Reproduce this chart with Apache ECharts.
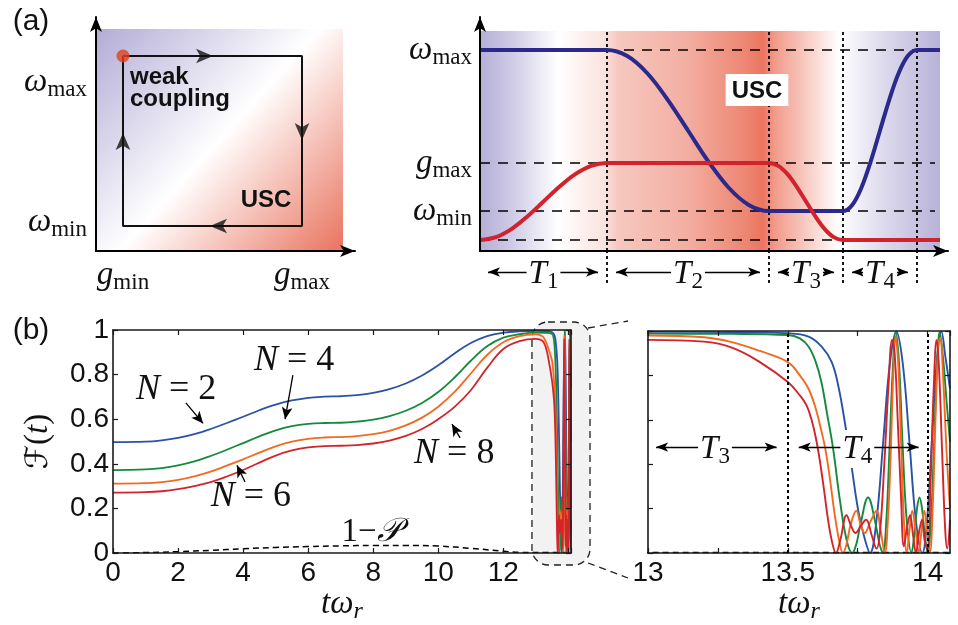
<!DOCTYPE html>
<html><head><meta charset="utf-8">
<script src="https://cdn.jsdelivr.net/npm/echarts@6.0.0/dist/echarts.min.js"></script>
<style>html,body{margin:0;padding:0;background:#fff;}#chart{width:958px;height:625px;}</style>
</head><body><div id="chart"></div>
<script>
// ================= DATA =================
// (a) left: loop in the (g, omega) plane
const gLevels = [0.27, 2.06];
const gLevelNames = [['g','min'], ['g','max']];
const wLoopLevels = [0.25, 1.95];
const wLoopNames = [['ω','min'], ['ω','max']];
const loopPath = [[0.27,1.95],[2.06,1.95],[2.06,0.25],[0.27,0.25],[0.27,1.95]];
const loopArrowPos = [[1.17,1.95],[2.06,1.11],[1.14,0.25],[0.27,1.18]];
const loopArrowDir = [-90, 180, 90, 0];
const loopStart = [[0.27,1.95]];
const loopBox = [2.47, 2.22];

// (a) right: control pulses omega(t), g(t)
const levelValues = [2.01, 0.88, 0.40, 0.11];
const levelNames = [['ω','max'], ['g','max'], ['ω','min'], ['g','min']];
const stageBounds = [0, 1.27, 2.89, 3.63, 4.37];
const stageArrowEnds = [[0.08,1.18],[1.36,2.80],[2.98,3.54],[3.72,4.28]];
const stageNames = ['1','2','3','4'];
const stageRow = -0.21, stageLineBottom = -0.32;
const pulseEnd = 4.60, pulseTop = 2.20;
const omegaPulse = [[0,2.01],[1.27,2.01],[1.4725,1.949],[1.675,1.775],[1.8775,1.512],[2.08,1.205],[2.2825,0.897],[2.485,0.635],[2.6875,0.461],[2.89,0.40],[3.63,0.40],[3.7225,0.461],[3.815,0.635],[3.9075,0.897],[4.0,1.205],[4.0925,1.512],[4.185,1.775],[4.2775,1.949],[4.37,2.01],[4.60,2.01]];
const gPulse = [[0,0.11],[0.159,0.139],[0.318,0.222],[0.476,0.348],[0.635,0.495],[0.794,0.642],[0.953,0.768],[1.111,0.851],[1.27,0.88],[2.89,0.88],[2.9825,0.851],[3.075,0.768],[3.1675,0.642],[3.26,0.495],[3.3525,0.348],[3.445,0.222],[3.5375,0.139],[3.63,0.11],[4.60,0.11]];

// (b) fidelity F(t) for N = 2, 4, 6, 8 and leakage 1-P
const fidN2 = [[0,0.497],[1,0.499],[1.5,0.505],[2,0.516],[2.5,0.533],[3,0.556],[3.5,0.583],[4,0.611],[4.5,0.640],[5,0.665],[5.5,0.684],[6,0.696],[6.5,0.701],[7,0.703],[7.5,0.708],[8,0.718],[8.5,0.735],[9,0.760],[9.5,0.796],[10,0.842],[10.5,0.895],[11,0.942],[11.5,0.973],[12,0.988],[12.5,0.994],[13,0.996],[13.3,0.995],[13.5,0.990],[13.574,0.975],[13.621,0.93],[13.657,0.86],[13.681,0.75],[13.705,0.58],[13.728,0.39],[13.752,0.19],[13.776,0.06],[13.794,0.0],[13.817,0.146],[13.841,0.5],[13.865,0.854],[13.888,0.998],[13.911,0.854],[13.935,0.5],[13.958,0.146],[13.981,0.0],[13.998,0.146],[14.015,0.5],[14.032,0.854],[14.049,0.998],[14.064,0.88],[14.08,0.74]];
const fidN4 = [[0,0.372],[1,0.375],[1.5,0.381],[2,0.393],[2.5,0.411],[3,0.435],[3.5,0.463],[4,0.493],[4.5,0.523],[5,0.550],[5.5,0.569],[6,0.579],[6.5,0.583],[7,0.584],[7.5,0.589],[8,0.598],[8.5,0.614],[9,0.638],[9.5,0.673],[10,0.722],[10.5,0.787],[11,0.862],[11.5,0.927],[12,0.966],[12.5,0.981],[13,0.988],[13.3,0.987],[13.5,0.982],[13.543,0.967],[13.574,0.93],[13.6,0.86],[13.62,0.77],[13.64,0.63],[13.662,0.47],[13.686,0.24],[13.71,0.06],[13.73,0.0],[13.745,0.04],[13.76,0.13],[13.787,0.25],[13.814,0.13],[13.828,0.04],[13.84,0.0],[13.852,0.14],[13.863,0.45],[13.875,0.82],[13.886,0.995],[13.898,0.85],[13.91,0.5],[13.925,0.15],[13.942,0.0],[13.952,0.08],[13.962,0.2],[13.971,0.25],[13.98,0.2],[13.99,0.08],[14.0,0.0],[14.012,0.15],[14.022,0.45],[14.033,0.82],[14.043,0.995],[14.055,0.88],[14.068,0.68],[14.08,0.5]];
const fidN6 = [[0,0.311],[1,0.313],[1.5,0.318],[2,0.328],[2.5,0.344],[3,0.365],[3.5,0.392],[4,0.420],[4.5,0.450],[5,0.478],[5.5,0.499],[6,0.512],[6.5,0.518],[7,0.520],[7.5,0.524],[8,0.533],[8.5,0.548],[9,0.572],[9.5,0.607],[10,0.656],[10.5,0.722],[11,0.805],[11.5,0.888],[12,0.945],[12.5,0.972],[13,0.980],[13.2,0.972],[13.3,0.950],[13.4,0.910],[13.5,0.86],[13.543,0.80],[13.574,0.74],[13.6,0.65],[13.62,0.55],[13.634,0.47],[13.65,0.34],[13.667,0.18],[13.683,0.06],[13.697,0.0],[13.71,0.04],[13.725,0.13],[13.745,0.19],[13.76,0.13],[13.775,0.09],[13.795,0.14],[13.817,0.19],[13.832,0.1],[13.847,0.0],[13.858,0.15],[13.868,0.45],[13.877,0.8],[13.885,0.975],[13.895,0.85],[13.905,0.5],[13.915,0.15],[13.925,0.0],[13.935,0.1],[13.945,0.19],[13.957,0.1],[13.968,0.0],[13.978,0.1],[13.988,0.19],[13.998,0.1],[14.008,0.0],[14.018,0.2],[14.028,0.6],[14.038,0.93],[14.045,0.97],[14.055,0.8],[14.068,0.45],[14.08,0.2]];
const fidN8 = [[0,0.271],[1,0.273],[1.5,0.277],[2,0.286],[2.5,0.300],[3,0.318],[3.5,0.343],[4,0.372],[4.5,0.405],[5,0.437],[5.5,0.460],[6,0.474],[6.5,0.479],[7,0.481],[7.5,0.484],[8,0.491],[8.5,0.504],[9,0.525],[9.5,0.556],[10,0.600],[10.5,0.655],[11,0.730],[11.5,0.830],[12,0.915],[12.5,0.950],[13,0.960],[13.2,0.952],[13.3,0.925],[13.4,0.86],[13.5,0.77],[13.543,0.71],[13.567,0.665],[13.585,0.60],[13.6,0.52],[13.614,0.42],[13.63,0.28],[13.645,0.14],[13.66,0.04],[13.672,0.0],[13.688,0.06],[13.71,0.17],[13.727,0.12],[13.742,0.09],[13.76,0.12],[13.78,0.15],[13.80,0.08],[13.817,0.02],[13.83,0.1],[13.845,0.4],[13.86,0.75],[13.873,0.96],[13.882,0.9],[13.893,0.6],[13.905,0.25],[13.915,0.03],[13.927,0.12],[13.937,0.17],[13.948,0.08],[13.958,0.0],[13.97,0.1],[13.98,0.15],[13.99,0.05],[14.0,0.02],[14.01,0.3],[14.022,0.75],[14.032,0.96],[14.04,0.85],[14.052,0.45],[14.063,0.1],[14.07,0.02],[14.08,0.15]];
const leakage = [[0,0.0],[1,0.002],[2,0.006],[3,0.012],[4,0.019],[5,0.025],[6,0.029],[7,0.032],[8,0.034],[9,0.034],[10,0.031],[11,0.021],[12,0.008],[12.5,0.003],[13,0.002],[14.08,0.002]];
const curveNames = ['N = 2', 'N = 4', 'N = 6', 'N = 8'];
const curveLabelPos = [[1.94,0.731],[5.57,0.865],[4.24,0.251],[10.49,0.444]];
const curveArrows = [[[2.24,0.673],[2.77,0.581]],[[5.53,0.798],[5.29,0.600]],[[4.06,0.318],[3.81,0.393]],[[10.67,0.516],[10.42,0.578]]];
const leakLabelPos = [7.93, 0.094];
const zoomMarks = [13.5, 14];
const zoomStageArrows = [[13.029,13.46],[13.539,13.968]];
const zoomStageLevel = 0.477;
const zoomStageNames = ['3','4'];
const zoomStart = 12.88;

// ================= STYLE =================
const SERIF = 'Liberation Serif', SANS = 'Liberation Sans', INK = '#111';
const curveColors = ['#2a52a6', '#15893c', '#f26a22', '#d2242b'];
const mrich = {
  i: {fontFamily: SERIF, fontStyle: 'italic', fontSize: 33, color: INK},
  r: {fontFamily: SERIF, fontSize: 33, color: INK},
  I: {fontFamily: SERIF, fontStyle: 'italic', fontSize: 36, color: INK},
  R: {fontFamily: SERIF, fontSize: 36, color: INK},
  s: {fontFamily: SERIF, fontSize: 23, color: INK, padding: [15, 0, 0, 0]},
  si: {fontFamily: SERIF, fontStyle: 'italic', fontSize: 24, color: INK, padding: [15, 0, 0, 0]},
  f: {fontFamily: 'DejaVu Sans', fontSize: 31, color: INK}
};
const mlab = (p) => '{i|' + p[0] + '}{s|' + p[1] + '}';
const pick = (vals, names) => (v) => {
  for (let k = 0; k < vals.length; k++) if (Math.abs(vals[k] - v) < 1e-6) return mlab(names[k]);
  return '';
};
const arrowAxisLine = {show: true, onZero: false, symbol: ['none', 'arrow'], symbolSize: [9, 15], lineStyle: {color: '#000', width: 2}};
const boxLine = {show: true, onZero: false, lineStyle: {color: '#1a1a1a', width: 1.6}};
const tickIn = {show: true, inside: true, length: 5, lineStyle: {color: '#1a1a1a', width: 1.2}};
const noSplit = {show: false};
const hidden = {axisLine: {show: false}, axisTick: {show: false}, axisLabel: {show: false}, splitLine: {show: false}};
const tickFont = {fontFamily: SANS, fontSize: 28, color: INK};

const gradA = {type: 'linear', x: 0, y: 0, x2: 1, y2: 1, colorStops: [
  {offset: 0, color: '#b2acd6'}, {offset: 0.5, color: '#ffffff'}, {offset: 1, color: '#e9735e'}]};
const gradB = {type: 'linear', x: 0, y: 0, x2: 1, y2: 0, colorStops: [
  {offset: 0, color: '#b4afd6'}, {offset: 0.07, color: '#cfcbe6'}, {offset: 0.17, color: '#ffffff'},
  {offset: 0.27, color: '#fbe3de'}, {offset: 0.30, color: '#f6c8bf'}, {offset: 0.45, color: '#f3aea2'},
  {offset: 0.58, color: '#ed8571'}, {offset: 0.615, color: '#ec7560'}, {offset: 0.64, color: '#f19a8a'},
  {offset: 0.72, color: '#f9d3cc'}, {offset: 0.78, color: '#ffffff'}, {offset: 0.88, color: '#dcd9ec'},
  {offset: 1, color: '#b7b2d8'}]};

const xName = '{i|tω}{si|r}';

const option = {
  animation: false,
  backgroundColor: '#fff',
  grid: [
    {left: 96, top: 17, width: 259, height: 234, outerBoundsMode: 'none'},
    {left: 480, top: 17, width: 468, height: 234, outerBoundsMode: 'none'},
    {left: 113, top: 330, width: 458, height: 223, outerBoundsMode: 'none'},
    {left: 648, top: 331, width: 302, height: 222, outerBoundsMode: 'none'},
    {left: 480, top: 251, width: 468, height: 40, outerBoundsMode: 'none'}
  ],
  xAxis: [
    {gridIndex: 0, type: 'value', min: 0, max: 2.59, axisLine: arrowAxisLine, axisTick: {show: false}, splitLine: noSplit, z: 5,
      axisLabel: {customValues: gLevels, formatter: pick(gLevels, gLevelNames), rich: mrich, margin: 5}},
    {gridIndex: 1, type: 'value', min: 0, max: 4.68, axisLine: arrowAxisLine, axisTick: {show: false}, splitLine: noSplit, axisLabel: {show: false}, z: 5},
    {gridIndex: 2, type: 'value', min: 0, max: 14.08, interval: 2, axisLine: boxLine, axisTick: tickIn, splitLine: noSplit, z: 5,
      axisLabel: Object.assign({margin: 6, formatter: (v) => v > 13 ? '' : String(v)}, tickFont),
      name: xName, nameLocation: 'middle', nameGap: 32, nameTextStyle: {rich: mrich}},
    {gridIndex: 2, type: 'value', position: 'top', min: 0, max: 14.08, interval: 2, axisLine: boxLine, axisTick: tickIn, splitLine: noSplit, axisLabel: {show: false}, z: 5},
    {gridIndex: 3, type: 'value', min: 13, max: 14.08, interval: 0.25, axisLine: boxLine, axisTick: tickIn, splitLine: noSplit, z: 5,
      axisLabel: Object.assign({margin: 6, showMaxLabel: false, formatter: (v) => Math.abs(v * 2 - Math.round(v * 2)) < 1e-6 ? String(v) : ''}, tickFont),
      name: xName, nameLocation: 'middle', nameGap: 32, nameTextStyle: {rich: mrich}},
    {gridIndex: 3, type: 'value', position: 'top', min: 13, max: 14.08, interval: 0.25, axisLine: boxLine, axisTick: tickIn, splitLine: noSplit, axisLabel: {show: false}, z: 5},
    Object.assign({gridIndex: 4, type: 'value', min: 0, max: 4.68}, hidden)
  ],
  yAxis: [
    {gridIndex: 0, type: 'value', min: 0, max: 2.34, axisLine: arrowAxisLine, axisTick: {show: false}, splitLine: noSplit, axisLabel: {show: false}, z: 5},
    {gridIndex: 1, type: 'value', min: 0, max: 2.34, axisLine: arrowAxisLine, axisTick: {show: false}, splitLine: noSplit, z: 5,
      axisLabel: {customValues: levelValues, formatter: pick(levelValues, levelNames), rich: mrich, margin: 8}},
    {gridIndex: 2, type: 'value', min: 0, max: 1, interval: 0.2, axisLine: boxLine, axisTick: tickIn, splitLine: noSplit, z: 5,
      axisLabel: Object.assign({margin: 4}, tickFont),
      name: '{f|ℱ}{r|(}{i|t}{r|)}', nameLocation: 'middle', nameRotate: 90, nameGap: 58, nameTextStyle: {rich: mrich}},
    {gridIndex: 2, type: 'value', position: 'right', min: 0, max: 1, interval: 0.2, axisLine: boxLine, axisTick: tickIn, splitLine: noSplit, axisLabel: {show: false}, z: 5},
    {gridIndex: 3, type: 'value', min: 0, max: 1, interval: 0.2, axisLine: boxLine, axisTick: tickIn, splitLine: noSplit, axisLabel: {show: false}, z: 5},
    {gridIndex: 3, type: 'value', position: 'right', min: 0, max: 1, interval: 0.2, axisLine: boxLine, axisTick: tickIn, splitLine: noSplit, axisLabel: {show: false}, z: 5},
    Object.assign({gridIndex: 4, type: 'value', min: -0.40, max: 0}, hidden)
  ],
  series: []
};

const S = option.series;
const host = (ax, ay, extra) => Object.assign({type: 'line', xAxisIndex: ax, yAxisIndex: ay, data: [], silent: true}, extra);
// ---- (a) left
S.push(host(0, 0, {markArea: {silent: true, z: 0, itemStyle: {color: gradA, opacity: 1}, data: [[{coord: [0, 0]}, {coord: loopBox}]]}}));
S.push({type: 'line', xAxisIndex: 0, yAxisIndex: 0, data: loopPath, showSymbol: false, silent: true, z: 3, lineStyle: {color: INK, width: 2}});
S.push({type: 'scatter', xAxisIndex: 0, yAxisIndex: 0, silent: true, z: 4, symbol: 'arrow', symbolSize: [11, 17], itemStyle: {color: INK},
  data: loopArrowPos.map((p, k) => ({value: p, symbolRotate: loopArrowDir[k]}))});
S.push({type: 'scatter', xAxisIndex: 0, yAxisIndex: 0, silent: true, z: 5, symbolSize: 13, itemStyle: {color: '#e2401c'}, data: loopStart});

// ---- (a) right
S.push(host(1, 1, {markArea: {silent: true, z: 0, itemStyle: {color: gradB, opacity: 1}, data: [[{coord: [0, 0]}, {coord: [pulseEnd, pulseTop]}]]}}));
S.push(host(1, 1, {markLine: {silent: true, z: 1, symbol: ['none', 'none'], label: {show: false}, lineStyle: {color: '#000', width: 1.6, type: [10, 8]},
  data: levelValues.map(v => [{coord: [0, v]}, {coord: [pulseEnd - 0.05, v]}])}}));
S.push(host(1, 1, {markLine: {silent: true, z: 1, symbol: ['none', 'none'], label: {show: false}, lineStyle: {color: '#000', width: 1.8, type: [3, 3]},
  data: stageBounds.slice(1).map(t => [{coord: [t, 0]}, {coord: [t, pulseTop]}])}}));
S.push(host(6, 6, {markLine: {silent: true, z: 1, symbol: ['none', 'none'], label: {show: false}, lineStyle: {color: '#000', width: 1.8, type: [3, 3]},
  data: stageBounds.slice(1).map(t => [{coord: [t, stageLineBottom]}, {coord: [t, 0]}])}}));
S.push(host(6, 6, {markLine: {silent: true, z: 1, symbol: ['arrow', 'arrow'], symbolSize: [7, 12], label: {show: false}, lineStyle: {color: '#000', width: 1.4, type: 'solid'},
  data: stageArrowEnds.map(e => [{coord: [e[0], stageRow]}, {coord: [e[1], stageRow]}])}}));
S.push({type: 'line', xAxisIndex: 1, yAxisIndex: 1, data: omegaPulse, showSymbol: false, smooth: 0.35, silent: true, z: 3,
  lineStyle: {color: '#2b2a8c', width: 4}});
S.push({type: 'line', xAxisIndex: 1, yAxisIndex: 1, data: gPulse, showSymbol: false, smooth: 0.35, silent: true, z: 3,
  lineStyle: {color: '#d0232d', width: 4}});

// ---- (b) left and right
const fids = [fidN2, fidN4, fidN6, fidN8];
[[2, 1.8], [4, 1.9]].forEach(([ax, w]) => {
  S.push({type: 'line', xAxisIndex: ax, yAxisIndex: ax, data: leakage, showSymbol: false, smooth: 0.4, silent: true, z: 2,
    lineStyle: {color: '#000', width: 1.5, type: [6, 4]}});
  fids.forEach((d, k) => {
    S.push({type: 'line', name: curveNames[k], xAxisIndex: ax, yAxisIndex: ax, data: d, showSymbol: false, smooth: 0.4, silent: true, z: 3,
      lineStyle: {color: curveColors[k], width: w}});
  });
});
S.push(host(2, 2, {markLine: {silent: true, z: 6, symbol: ['none', 'arrow'], symbolSize: [8, 12], label: {show: false}, lineStyle: {color: '#000', width: 1.3, type: 'solid'},
  data: curveArrows.map(a => [{coord: a[0]}, {coord: a[1]}])}}));
S.push(host(4, 4, {markLine: {silent: true, z: 6, symbol: ['none', 'none'], label: {show: false}, lineStyle: {color: '#000', width: 2, type: [3, 3]},
  data: zoomMarks.map(t => ({xAxis: t}))}}));
S.push(host(4, 4, {markLine: {silent: true, z: 6, symbol: ['arrow', 'arrow'], symbolSize: [7, 12], label: {show: false}, lineStyle: {color: '#000', width: 1.4, type: 'solid'},
  data: zoomStageArrows.map(e => [{coord: [e[0], zoomStageLevel]}, {coord: [e[1], zoomStageLevel]}])}}));

const chart = echarts.init(document.getElementById('chart'), null, {renderer: 'canvas', width: 958, height: 625});
chart.setOption(option);

// ================= ANNOTATIONS (placed through the axes) =================
const P = (g, p) => chart.convertToPixel({gridIndex: g}, p);
const G = [];
function txt(pos, text, extra) {
  const st = Object.assign({text: text, rich: mrich, align: 'center', verticalAlign: 'middle', textAlign: 'center', textVerticalAlign: 'middle', fill: INK}, extra || {});
  G.push({type: 'text', x: pos[0], y: pos[1], z: 20, silent: true, style: st});
}
const boldStyle = {font: 'bold 24px "Liberation Sans"', fontFamily: SANS, fontWeight: 'bold', fontSize: 24};
const panelStyle = {font: '30px "Liberation Sans"', fontFamily: SANS, fontSize: 30};
txt([31, 22], '(a)', panelStyle);
txt([31, 331], '(b)', panelStyle);
const pw1 = P(0, [0, wLoopLevels[1]]), pw0 = P(0, [0, wLoopLevels[0]]);
txt([pw1[0] - 9, pw1[1] + 26], mlab(wLoopNames[1]), {align: 'right', textAlign: 'right'});
txt([pw0[0] - 9, pw0[1] - 4], mlab(wLoopNames[0]), {align: 'right', textAlign: 'right'});
const pwk = P(0, [0.34, 1.74]);
txt([pwk[0], pwk[1]], 'weak', Object.assign({align: 'left', textAlign: 'left'}, boldStyle));
txt([pwk[0], pwk[1] + 22], 'coupling', Object.assign({align: 'left', textAlign: 'left'}, boldStyle));
txt(P(0, [1.70, 0.51]), 'USC', boldStyle);
txt(P(1, [2.77, 1.61]), 'USC', Object.assign({backgroundColor: '#fff', padding: [5, 6, 3, 6]}, boldStyle));
stageArrowEnds.forEach((e, k) => {
  const c = P(4, [(stageBounds[k] + stageBounds[k + 1]) / 2, stageRow]);
  txt([c[0], c[1] + 2], '{i|T}{s|' + stageNames[k] + '}', {backgroundColor: '#fff', padding: [0, 2, 0, 2]});
});
curveNames.forEach((n, k) => {
  txt(P(2, curveLabelPos[k]), '{I|N}{R| = ' + n.split('= ')[1] + '}');
});
txt(P(2, leakLabelPos), '{r|1−}{i|𝒫}');
zoomStageNames.forEach((n, k) => {
  const c = P(3, [(zoomStageArrows[k][0] + zoomStageArrows[k][1]) / 2 - 0.005, zoomStageLevel]);
  txt([c[0], c[1] + 2], '{i|T}{s|' + n + '}', {backgroundColor: '#fff', padding: [0, 2, 0, 2]});
});
// zoom window in (b) left + connectors
const zl = P(2, [zoomStart, 1]), zr = P(2, [14.08, 0]), zt = P(2, [0, 1]), zb = P(2, [0, 0]);
const rx = zl[0], ry = zt[1] - 8, rw = zr[0] + 19 - zl[0], rh = zb[1] + 12 - ry;
G.push({type: 'rect', z: -1, silent: true, shape: {x: rx, y: ry, width: rw, height: rh, r: 16},
  style: {fill: '#f2f2f2', stroke: '#222', lineWidth: 1.3, lineDash: [7, 5]}});
const c1 = P(3, [13, 1]), c0 = P(3, [13, 0]);
G.push({type: 'line', z: 1, silent: true, shape: {x1: rx + rw - 2, y1: ry + 6, x2: c1[0] - 20, y2: c1[1] - 10}, style: {stroke: '#222', lineWidth: 1.3, lineDash: [7, 5]}});
G.push({type: 'line', z: 1, silent: true, shape: {x1: rx + rw - 2, y1: ry + rh - 2, x2: c0[0] - 20, y2: c0[1] + 25}, style: {stroke: '#222', lineWidth: 1.3, lineDash: [7, 5]}});
chart.setOption({graphic: G});
</script></body></html>
